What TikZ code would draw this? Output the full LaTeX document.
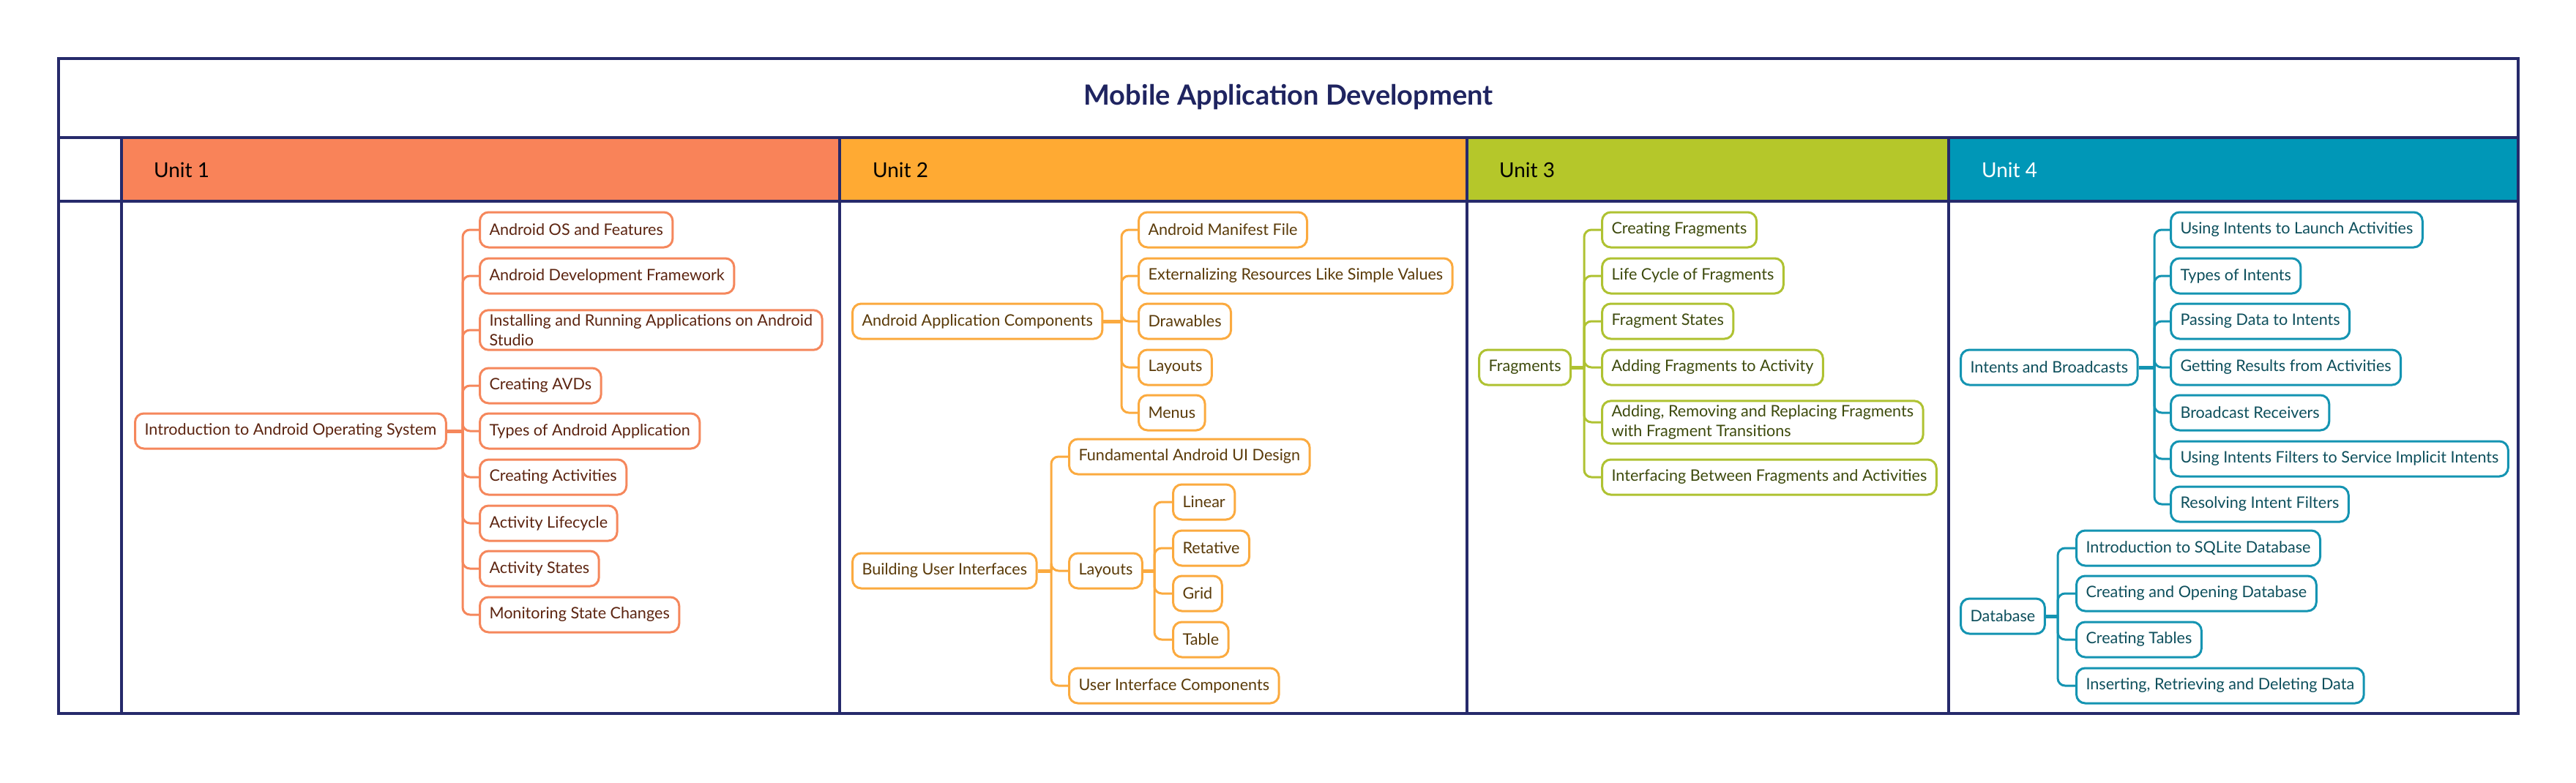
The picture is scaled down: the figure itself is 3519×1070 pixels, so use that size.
\documentclass[tikz,border=0pt]{standalone}
\usepackage{fontspec}
\setmainfont{Lato}
\usetikzlibrary{positioning}
\definecolor{navy}{HTML}{262A6B}
\definecolor{titlec}{HTML}{1F2460}
\definecolor{ca}{HTML}{F98359}
\definecolor{cb}{HTML}{FFAA33}
\definecolor{cc}{HTML}{B5C72A}
\definecolor{cd}{HTML}{0097B7}
\definecolor{sa}{HTML}{F5875C}
\definecolor{sb}{HTML}{FBAA3F}
\definecolor{sc}{HTML}{AFC232}
\definecolor{sd}{HTML}{1494B2}
\definecolor{ta}{HTML}{5C2410}
\definecolor{tb}{HTML}{5A3A08}
\definecolor{tc}{HTML}{3D4A0C}
\definecolor{td}{HTML}{0D4F5C}
\tikzset{
  topic/.style={draw, line width=1.5pt, rounded corners=6pt, fill=white, anchor=west,
    align=left, inner xsep=6.5pt, inner ysep=3pt, minimum height=24pt,
    font=\fontsize{10.8}{13.2}\selectfont},
  ua/.style={topic, draw=sa, text=ta},
  ub/.style={topic, draw=sb, text=tb},
  uc/.style={topic, draw=sc, text=tc},
  ud/.style={topic, draw=sd, text=td},
  stem/.style={line width=2.5pt},
  twig/.style={line width=1.5pt, rounded corners=5pt},
  frame/.style={draw=navy, line width=2pt},
  unithead/.style={anchor=west, font=\fontsize{14}{16}\selectfont}
}
\begin{document}
\begin{tikzpicture}[x=0.5pt,y=-0.5pt]
\useasboundingbox (0,0) rectangle (3519,1070);
% header fills
\fill[ca] (166,188) rectangle (1147,275);
\fill[cb] (1147,188) rectangle (2004,275);
\fill[cc] (2004,188) rectangle (2662,275);
\fill[cd] (2662,188) rectangle (3440,275);
% frame
\draw[frame] (80,80) rectangle (3440,975);
\draw[frame] (80,188) -- (3440,188);
\draw[frame] (80,275) -- (3440,275);
\draw[frame] (166,188) -- (166,975);
\draw[frame] (1147,188) -- (1147,975);
\draw[frame] (2004,188) -- (2004,975);
\draw[frame] (2662,188) -- (2662,975);
% titles
\node[text=titlec, font=\fontsize{19}{22}\selectfont\bfseries] (title) at (1760,133) {Mobile Application Development};
\node[unithead, text=black] (h1) at (203,232) {Unit 1};
\node[unithead, text=black] (h2) at (1185,232) {Unit 2};
\node[unithead, text=black] (h3) at (2041,232) {Unit 3};
\node[unithead, text=white] (h4) at (2700,232) {Unit 4};

% ---------- Unit 1 ----------
\node[ua] (intro) at (183,589) {Introduction to Android Operating System};
\node[ua] (a1) at (654,314) {Android OS and Features};
\node[ua] (a2) at (654,377) {Android Development Framework};
\node[ua] (a3) at (654,451) {Installing and Running Applications on Android\\Studio};
\node[ua] (a4) at (654,527) {Creating AVDs};
\node[ua] (a5) at (654,589) {Types of Android Application};
\node[ua] (a6) at (654,652) {Creating Activities};
\node[ua] (a7) at (654,715) {Activity Lifecycle};
\node[ua] (a8) at (654,777) {Activity States};
\node[ua] (a9) at (654,840) {Monitoring State Changes};
\coordinate (ta1) at (632,589);
\draw[stem, sa] (intro.east) -- (ta1);
\foreach \n in {a1,a2,a3,a4,a5,a6,a7,a8,a9} \draw[twig, sa] (ta1) |- (\n.west);

% ---------- Unit 2 ----------
\node[ub] (b) at (1163,439) {Android Application Components};
\node[ub] (b1) at (1554,314) {Android Manifest File};
\node[ub] (b2) at (1554,377) {Externalizing Resources Like Simple Values};
\node[ub] (b3) at (1554,439) {Drawables};
\node[ub] (b4) at (1554,502) {Layouts};
\node[ub] (b5) at (1554,564) {Menus};
\coordinate (tb1) at (1532,439);
\draw[stem, sb] (b.east) -- (tb1);
\foreach \n in {b1,b2,b3,b4,b5} \draw[twig, sb] (tb1) |- (\n.west);

\node[ub] (c) at (1163,780) {Building User Interfaces};
\node[ub] (c1) at (1459,624) {Fundamental Android UI Design};
\node[ub] (c2) at (1459,780) {Layouts};
\node[ub] (c3) at (1459,937) {User Interface Components};
\coordinate (tc1) at (1436,780);
\draw[stem, sb] (c.east) -- (tc1);
\foreach \n in {c1,c2,c3} \draw[twig, sb] (tc1) |- (\n.west);

\node[ub] (l1) at (1601,686) {Linear};
\node[ub] (l2) at (1601,749) {Retative};
\node[ub] (l3) at (1601,811) {Grid};
\node[ub] (l4) at (1601,874) {Table};
\coordinate (tl1) at (1577,780);
\draw[stem, sb] (c2.east) -- (tl1);
\foreach \n in {l1,l2,l3,l4} \draw[twig, sb] (tl1) |- (\n.west);

% ---------- Unit 3 ----------
\node[uc] (f) at (2019,502) {Fragments};
\node[uc] (f1) at (2187,314) {Creating Fragments};
\node[uc] (f2) at (2187,377) {Life Cycle of Fragments};
\node[uc] (f3) at (2187,439) {Fragment States};
\node[uc] (f4) at (2187,502) {Adding Fragments to Activity};
\node[uc] (f5) at (2187,577) {Adding, Removing and Replacing Fragments\\with Fragment Transitions};
\node[uc] (f6) at (2187,652) {Interfacing Between Fragments and Activities};
\coordinate (tf1) at (2164,502);
\draw[stem, sc] (f.east) -- (tf1);
\foreach \n in {f1,f2,f3,f4,f5,f6} \draw[twig, sc] (tf1) |- (\n.west);

% ---------- Unit 4 ----------
\node[ud] (i) at (2677,502) {Intents and Broadcasts};
\node[ud] (i1) at (2964,314) {Using Intents to Launch Activities};
\node[ud] (i2) at (2964,377) {Types of Intents};
\node[ud] (i3) at (2964,439) {Passing Data to Intents};
\node[ud] (i4) at (2964,502) {Getting Results from Activities};
\node[ud] (i5) at (2964,564) {Broadcast Receivers};
\node[ud] (i6) at (2964,627) {Using Intents Filters to Service Implicit Intents};
\node[ud] (i7) at (2964,689) {Resolving Intent Filters};
\coordinate (ti1) at (2943,502);
\draw[stem, sd] (i.east) -- (ti1);
\foreach \n in {i1,i2,i3,i4,i5,i6,i7} \draw[twig, sd] (ti1) |- (\n.west);

\node[ud] (d) at (2677,842) {Database};
\node[ud] (d1) at (2835,749) {Introduction to SQLite Database};
\node[ud] (d2) at (2835,811) {Creating and Opening Database};
\node[ud] (d3) at (2835,874) {Creating Tables};
\node[ud] (d4) at (2835,937) {Inserting, Retrieving and Deleting Data};
\coordinate (td1) at (2811,842);
\draw[stem, sd] (d.east) -- (td1);
\foreach \n in {d1,d2,d3,d4} \draw[twig, sd] (td1) |- (\n.west);
\end{tikzpicture}
\end{document}
